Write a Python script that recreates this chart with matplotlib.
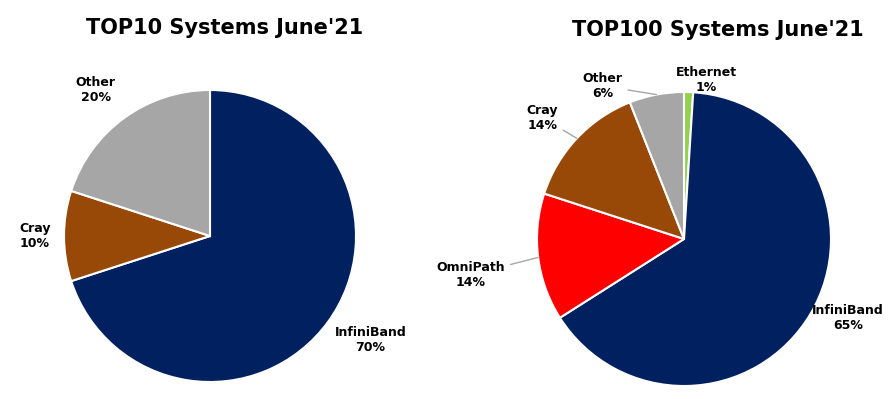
import numpy as np
import matplotlib.pyplot as plt

plt.rcParams['font.family'] = ['DejaVu Sans']

# TOP10 systems, June'21
top10_labels = ['InfiniBand', 'Cray', 'Other']
top10_values = [70, 10, 20]
top10_colors = ['#002060', '#984807', '#A6A6A6']

# TOP100 systems, June'21 (Ethernet first so it sits just right of 12 o'clock)
top100_labels = ['Ethernet', 'InfiniBand', 'OmniPath', 'Cray', 'Other']
top100_values = [1, 65, 14, 14, 6]
top100_colors = ['#92D050', '#002060', '#FF0000', '#984807', '#A6A6A6']

W, H = 896, 399


def draw_pie(ax, values, labels, colors, label_pos, leaders):
	wedges, _ = ax.pie(values, colors=colors, startangle=90, counterclock=False,
		wedgeprops=dict(edgecolor='white', linewidth=1.5))
	ax.set_xlim(-1, 1)
	ax.set_ylim(-1, 1)
	for w, lab, val, (ang, dist), lead in zip(wedges, labels, values, label_pos, leaders):
		mid = np.deg2rad((w.theta1 + w.theta2) / 2)
		tx, ty = dist * np.cos(np.deg2rad(ang)), dist * np.sin(np.deg2rad(ang))
		txt = f"{lab}\n{val}%"
		if lead:
			ax.annotate(txt, xy=(np.cos(mid), np.sin(mid)), xytext=(tx, ty),
				ha='center', va='center', fontsize=9, fontweight='bold',
				annotation_clip=False,
				arrowprops=dict(arrowstyle='-', color='#A6A6A6', lw=1,
					shrinkA=2, shrinkB=0))
		else:
			ax.text(tx, ty, txt, ha='center', va='center', fontsize=9,
				fontweight='bold', clip_on=False)


fig = plt.figure(figsize=(W / 100, H / 100), dpi=100)

ax1 = fig.add_axes([64 / W, 17 / H, 292 / W, 292 / H])
draw_pie(ax1, top10_values, top10_labels, top10_colors,
	[(-33, 1.31), (180, 1.2), (128, 1.27)], [False, False, False])

ax2 = fig.add_axes([537 / W, 13 / H, 294 / W, 294 / H])
draw_pie(ax2, top100_values, top100_labels, top100_colors,
	[(82, 1.09), (-25.7, 1.24), (189.5, 1.47), (139.4, 1.27), (118, 1.18)],
	[False, False, True, True, True])

fig.text(225 / W, 1 - 28 / H, "TOP10 Systems June'21", ha='center', va='center',
	fontsize=15, fontweight='bold')
fig.text(718 / W, 1 - 30 / H, "TOP100 Systems June'21", ha='center', va='center',
	fontsize=15, fontweight='bold')

fig.savefig('out.png', dpi=100)
